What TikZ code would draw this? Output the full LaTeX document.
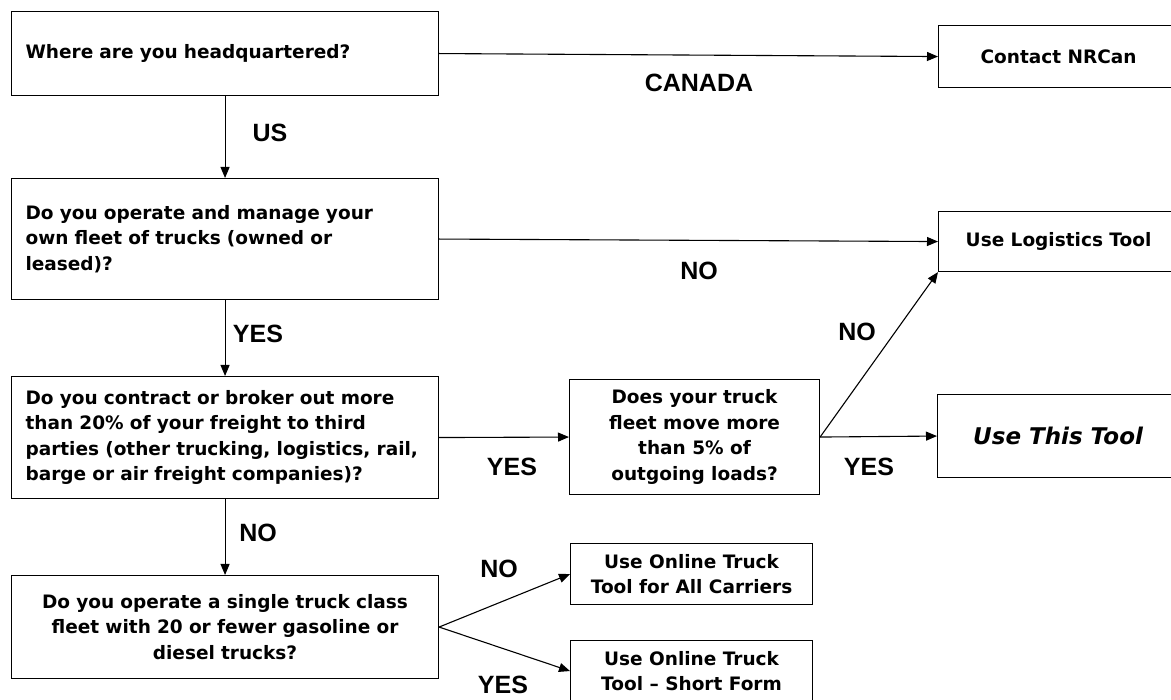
\documentclass[tikz,border=0pt]{standalone}
\usepackage{fontspec}
\setmainfont{DejaVu Sans}
\newfontfamily\labelfont{Liberation Sans}
\usetikzlibrary{arrows.meta}

\begin{document}
\begin{tikzpicture}[x=1pt, y=-1pt, >={Triangle[length=11pt,width=9pt]},
    box/.style={draw, line width=1.1pt, inner sep=0pt, anchor=north west, align=center,
                font=\fontsize{18.5}{25.5}\selectfont\bfseries},
    qbox/.style={box, inner xsep=14pt, text width=399pt, align=left},
    ans/.style={font=\labelfont\fontsize{25}{28}\selectfont\bfseries},
    flow/.style={->, line width=1.1pt}]

    \clip (0,0) rectangle (1171,700);

    % questions on the left
    \node[qbox, minimum height=84pt] (hq) at (11,11) {Where are you headquartered?};
    \node[qbox, minimum height=121pt] (fleet) at (11,178) {Do you operate and manage your\\own fleet of trucks (owned or\\leased)?};
    \node[qbox, minimum height=122pt] (broker) at (11,376) {Do you contract or broker out more\\than 20\% of your freight to third\\parties (other trucking, logistics, rail,\\barge or air freight companies)?};
    \node[qbox, minimum height=103pt, align=center] (single) at (11,575) {Do you operate a single truck class\\fleet with 20 or fewer gasoline or\\diesel trucks?};
    \node[box, minimum width=250pt, minimum height=115pt] (share) at (569,379) {Does your truck\\fleet move more\\than 5\% of\\outgoing loads?};

    % outcomes
    \node[box, minimum width=240pt, minimum height=62pt] (nrcan) at (938,25) {Contact NRCan};
    \node[box, minimum width=240pt, minimum height=60pt] (logistics) at (938,211) {Use Logistics Tool};
    \node[box, minimum width=241pt, minimum height=83pt, font=\fontsize{23}{28}\selectfont\bfseries\itshape] (thistool) at (937,394) {Use This Tool};
    \node[box, minimum width=242pt, minimum height=61pt] (allcarriers) at (570,543) {Use Online Truck\\Tool for All Carriers};
    \node[box, minimum width=242pt, minimum height=61pt] (shortform) at (570,640) {Use Online Truck\\Tool -- Short Form};

    % connectors
    \draw[flow] (hq.east) -- (nrcan.west);
    \draw[flow] (hq.south) -- (fleet.north);
    \draw[flow] (fleet.east) -- (logistics.west);
    \draw[flow] (fleet.south) -- (broker.north);
    \draw[flow] (broker.east) -- (share.west);
    \draw[flow] (broker.south) -- (single.north);
    \draw[flow] (share.east) -- (logistics.south west);
    \draw[flow] (share.east) -- (thistool.west);
    \draw[flow] (single.east) -- (allcarriers.west);
    \draw[flow] (single.east) -- (shortform.west);

    % answers
    \node[ans] (canada) at (699,83) {CANADA};
    \node[ans] (us) at (270,133) {US};
    \node[ans] (fleetno) at (699,271) {NO};
    \node[ans] (fleetyes) at (258,334) {YES};
    \node[ans] (brokeryes) at (512,467) {YES};
    \node[ans] (brokerno) at (258,533) {NO};
    \node[ans] (shareno) at (857,332) {NO};
    \node[ans] (shareyes) at (869,467) {YES};
    \node[ans] (singleno) at (499,569) {NO};
    \node[ans] (singleyes) at (503,685) {YES};

\end{tikzpicture}
\end{document}
